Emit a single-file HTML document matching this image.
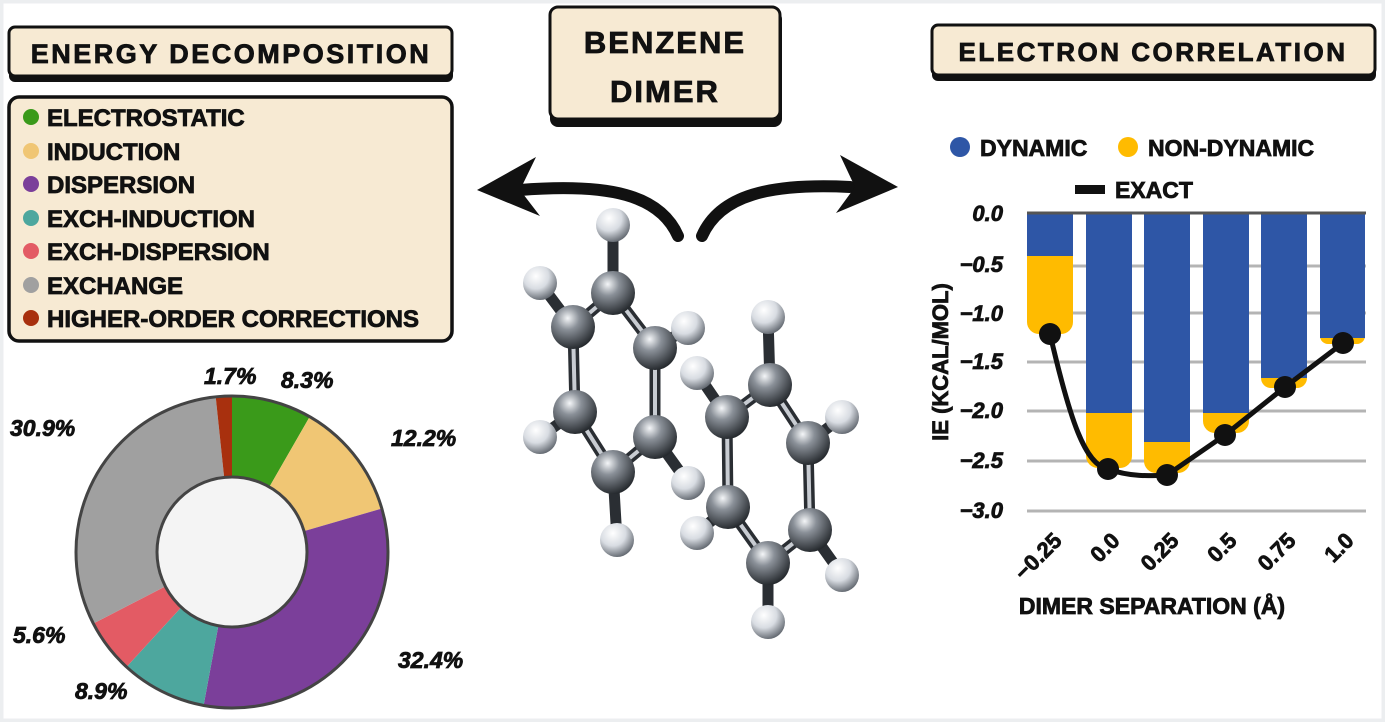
<!DOCTYPE html>
<html><head><meta charset="utf-8"><style>
html,body{margin:0;padding:0;background:#fff;}
svg{display:block;}
text{font-family:"Liberation Sans",sans-serif;font-weight:bold;fill:#111;stroke:#111;stroke-width:0.8;}
</style></head><body>
<svg width="1385" height="722" viewBox="0 0 1385 722" xmlns="http://www.w3.org/2000/svg">
<defs>
<radialGradient id="gc" cx="0.38" cy="0.3" r="0.75"><stop offset="0" stop-color="#f4f6f8"/><stop offset="0.35" stop-color="#8a9098"/><stop offset="1" stop-color="#1e2226"/></radialGradient>
<radialGradient id="gh" cx="0.38" cy="0.3" r="0.75"><stop offset="0" stop-color="#ffffff"/><stop offset="0.5" stop-color="#d8dce2"/><stop offset="1" stop-color="#5a6068"/></radialGradient>
</defs>
<rect x="0" y="0" width="1385" height="722" fill="#fff"/>
<rect x="0.5" y="0.5" width="1384" height="721" fill="none" stroke="#eceef0" stroke-width="6"/>

<rect x="9" y="31" width="444" height="51" rx="6" fill="#111"/>
<rect x="9" y="27" width="443" height="49" rx="6" fill="#f7ead3" stroke="#111" stroke-width="3"/>
<text x="231" y="63" font-size="27" text-anchor="middle" letter-spacing="2.5" stroke-width="1.2">ENERGY DECOMPOSITION</text>

<rect x="9" y="97" width="443" height="244" rx="10" fill="#f7ead3" stroke="#111" stroke-width="3.5"/>
<g font-size="24" stroke-width="1">
<circle cx="31" cy="117" r="8" fill="#3a9a1a"/><text x="47" y="126">ELECTROSTATIC</text>
<circle cx="31" cy="151" r="8" fill="#f0c674"/><text x="47" y="160">INDUCTION</text>
<circle cx="31" cy="184" r="8" fill="#7b3f9a"/><text x="47" y="193">DISPERSION</text>
<circle cx="31" cy="218" r="8" fill="#4da79e"/><text x="47" y="227">EXCH-INDUCTION</text>
<circle cx="31" cy="251" r="8" fill="#e35b64"/><text x="47" y="260">EXCH-DISPERSION</text>
<circle cx="31" cy="285" r="8" fill="#a0a0a0"/><text x="47" y="294">EXCHANGE</text>
<circle cx="31" cy="318" r="8" fill="#a8300e"/><text x="47" y="327">HIGHER-ORDER CORRECTIONS</text>
</g>

<g transform="rotate(-90 232 552)" fill="none" stroke-width="81">
<circle cx="232" cy="552" r="116" stroke="#3a9a1a" stroke-dasharray="60.5 668.35" stroke-dashoffset="0"/>
<circle cx="232" cy="552" r="116" stroke="#f0c674" stroke-dasharray="88.9 639.95" stroke-dashoffset="-60.5"/>
<circle cx="232" cy="552" r="116" stroke="#7b3f9a" stroke-dasharray="236.1 492.75" stroke-dashoffset="-149.4"/>
<circle cx="232" cy="552" r="116" stroke="#4da79e" stroke-dasharray="64.9 663.95" stroke-dashoffset="-385.5"/>
<circle cx="232" cy="552" r="116" stroke="#e35b64" stroke-dasharray="40.8 688.05" stroke-dashoffset="-450.4"/>
<circle cx="232" cy="552" r="116" stroke="#a0a0a0" stroke-dasharray="225.2 503.65" stroke-dashoffset="-491.2"/>
<circle cx="232" cy="552" r="116" stroke="#a8300e" stroke-dasharray="12.4 716.45" stroke-dashoffset="-716.4"/>
</g>
<circle cx="232" cy="552" r="156" fill="none" stroke="#444" stroke-width="3"/>
<circle cx="232" cy="552" r="75" fill="#f4f4f4" stroke="#444" stroke-width="3"/>
<g font-size="23" font-style="italic">
<text x="204" y="384">1.7%</text>
<text x="281" y="388">8.3%</text>
<text x="391" y="446">12.2%</text>
<text x="10" y="436">30.9%</text>
<text x="398" y="668">32.4%</text>
<text x="13" y="643">5.6%</text>
<text x="75" y="699">8.9%</text>
</g>

<rect x="550" y="11" width="232" height="116" rx="8" fill="#111"/>
<rect x="550" y="7" width="230" height="112" rx="8" fill="#f7ead3" stroke="#111" stroke-width="3"/>
<text x="665" y="53" font-size="31" text-anchor="middle" letter-spacing="2" stroke-width="1.4">BENZENE</text>
<text x="665" y="102" font-size="31" text-anchor="middle" letter-spacing="2" stroke-width="1.4">DIMER</text>

<path d="M678 236 C660 195 610 183 520 190" fill="none" stroke="#111" stroke-width="12" stroke-linecap="round"/>
<path d="M477 190 L536 157 L520 190 L540 216 Z" fill="#111"/>
<path d="M702 236 C720 195 770 183 850 187" fill="none" stroke="#111" stroke-width="12" stroke-linecap="round"/>
<path d="M898 187 L840 155 L855 187 L836 213 Z" fill="#111"/>

<g stroke-linecap="round">
<g stroke="#2a2e33" stroke-width="11">
<line x1="613" y1="293" x2="613" y2="225"/><line x1="573" y1="327" x2="540" y2="283"/><line x1="655" y1="348" x2="688" y2="328"/>
<line x1="575" y1="412" x2="540" y2="437"/><line x1="655" y1="437" x2="688" y2="483"/><line x1="613" y1="472" x2="617" y2="540"/>
<line x1="613" y1="293" x2="573" y2="327"/><line x1="613" y1="293" x2="655" y2="348"/><line x1="573" y1="327" x2="575" y2="412"/>
<line x1="655" y1="348" x2="655" y2="437"/><line x1="575" y1="412" x2="613" y2="472"/><line x1="655" y1="437" x2="613" y2="472"/>
</g>
<g stroke="#c8ccd2" stroke-width="4">
<line x1="613" y1="293" x2="573" y2="327"/><line x1="613" y1="293" x2="655" y2="348"/><line x1="573" y1="327" x2="575" y2="412"/>
<line x1="655" y1="348" x2="655" y2="437"/><line x1="575" y1="412" x2="613" y2="472"/><line x1="655" y1="437" x2="613" y2="472"/>
</g>
</g>
<g fill="url(#gh)">
<circle cx="613" cy="225" r="17"/><circle cx="540" cy="283" r="17"/><circle cx="688" cy="328" r="17"/>
<circle cx="540" cy="437" r="17"/><circle cx="688" cy="483" r="17"/><circle cx="617" cy="540" r="17"/>
</g>
<g fill="url(#gc)">
<circle cx="613" cy="293" r="22"/><circle cx="573" cy="327" r="22"/><circle cx="655" cy="348" r="22"/>
<circle cx="575" cy="412" r="22"/><circle cx="655" cy="437" r="22"/><circle cx="613" cy="472" r="22"/>
</g>

<g stroke-linecap="round">
<g stroke="#2a2e33" stroke-width="11">
<line x1="770" y1="385" x2="768" y2="317"/><line x1="727" y1="417" x2="697" y2="373"/><line x1="808" y1="443" x2="842" y2="417"/>
<line x1="728" y1="507" x2="697" y2="533"/><line x1="810" y1="530" x2="842" y2="575"/><line x1="768" y1="563" x2="768" y2="622"/>
<line x1="770" y1="385" x2="727" y2="417"/><line x1="770" y1="385" x2="808" y2="443"/><line x1="727" y1="417" x2="728" y2="507"/>
<line x1="808" y1="443" x2="810" y2="530"/><line x1="728" y1="507" x2="768" y2="563"/><line x1="810" y1="530" x2="768" y2="563"/>
</g>
<g stroke="#c8ccd2" stroke-width="4">
<line x1="770" y1="385" x2="727" y2="417"/><line x1="770" y1="385" x2="808" y2="443"/><line x1="727" y1="417" x2="728" y2="507"/>
<line x1="808" y1="443" x2="810" y2="530"/><line x1="728" y1="507" x2="768" y2="563"/><line x1="810" y1="530" x2="768" y2="563"/>
</g>
</g>
<g fill="url(#gh)">
<circle cx="768" cy="317" r="17"/><circle cx="697" cy="373" r="17"/><circle cx="842" cy="417" r="17"/>
<circle cx="697" cy="533" r="17"/><circle cx="842" cy="575" r="17"/><circle cx="768" cy="622" r="17"/>
</g>
<g fill="url(#gc)">
<circle cx="770" cy="385" r="22"/><circle cx="727" cy="417" r="22"/><circle cx="808" cy="443" r="22"/>
<circle cx="728" cy="507" r="22"/><circle cx="810" cy="530" r="22"/><circle cx="768" cy="563" r="22"/>
</g>

<rect x="932" y="29" width="444" height="52" rx="6" fill="#111"/>
<rect x="932" y="25" width="443" height="50" rx="6" fill="#f7ead3" stroke="#111" stroke-width="3"/>
<text x="1153" y="61" font-size="26" text-anchor="middle" letter-spacing="2.5" stroke-width="1.2">ELECTRON CORRELATION</text>

<circle cx="960" cy="147" r="10" fill="#2e56a6"/><text x="980" y="156" font-size="23" stroke-width="1">DYNAMIC</text>
<circle cx="1128" cy="147" r="10" fill="#ffbb00"/><text x="1148" y="156" font-size="23" stroke-width="1">NON-DYNAMIC</text>
<rect x="1075" y="185" width="30" height="9" fill="#111"/><text x="1115" y="198" font-size="23" stroke-width="1">EXACT</text>

<g stroke="#b4b4b4" stroke-width="3">
<line x1="1027" y1="266" x2="1366" y2="266"/><line x1="1027" y1="313" x2="1366" y2="313"/>
<line x1="1027" y1="362" x2="1366" y2="362"/><line x1="1027" y1="411" x2="1366" y2="411"/>
<line x1="1027" y1="461" x2="1366" y2="461"/><line x1="1027" y1="511" x2="1366" y2="511"/>
</g>
<g>
<path d="M1027 213 H1073 V322 a12 12 0 0 1 -12 12 H1039 a12 12 0 0 1 -12 -12 Z" fill="#ffbb00"/>
<rect x="1027" y="213" width="46" height="43" fill="#2e56a6"/>
<path d="M1086 213 H1132 V456 a12 12 0 0 1 -12 12 H1098 a12 12 0 0 1 -12 -12 Z" fill="#ffbb00"/>
<rect x="1086" y="213" width="46" height="200" fill="#2e56a6"/>
<path d="M1144 213 H1190 V461 a12 12 0 0 1 -12 12 H1156 a12 12 0 0 1 -12 -12 Z" fill="#ffbb00"/>
<rect x="1144" y="213" width="46" height="229" fill="#2e56a6"/>
<path d="M1203 213 H1249 V421 a12 12 0 0 1 -12 12 H1215 a12 12 0 0 1 -12 -12 Z" fill="#ffbb00"/>
<rect x="1203" y="213" width="46" height="200" fill="#2e56a6"/>
<path d="M1261 213 H1307 V378 a10 10 0 0 1 -10 10 H1271 a10 10 0 0 1 -10 -10 Z" fill="#ffbb00"/>
<rect x="1261" y="213" width="46" height="165" fill="#2e56a6"/>
<path d="M1320 213 H1365 V336 a8 8 0 0 1 -8 8 H1328 a8 8 0 0 1 -8 -8 Z" fill="#ffbb00"/>
<rect x="1320" y="213" width="45" height="125" fill="#2e56a6"/>
</g>
<line x1="1027" y1="213" x2="1366" y2="213" stroke="#555" stroke-width="3"/>
<path d="M1050 334 C1070 420 1085 465 1108 469 C1130 477 1150 476 1167 475 L1225 435 L1285 387 L1343 343" fill="none" stroke="#111" stroke-width="5"/>
<g fill="#111">
<circle cx="1050" cy="334" r="11"/><circle cx="1108" cy="469" r="11"/><circle cx="1167" cy="475" r="11"/>
<circle cx="1225" cy="435" r="11"/><circle cx="1285" cy="387" r="11"/><circle cx="1343" cy="343" r="11"/>
</g>
<g font-size="22" text-anchor="end" font-style="italic" stroke-width="1">
<text x="1003" y="221">0.0</text><text x="1003" y="272">−0.5</text><text x="1003" y="321">−1.0</text>
<text x="1003" y="369">−1.5</text><text x="1003" y="418">−2.0</text><text x="1003" y="468">−2.5</text><text x="1003" y="518">−3.0</text>
</g>
<text transform="translate(948 362) rotate(-90)" font-size="22" text-anchor="middle" stroke-width="1">IE (KCAL/MOL)</text>
<g font-size="22" text-anchor="end" stroke-width="1">
<text transform="translate(1063 542) rotate(-45)">−0.25</text>
<text transform="translate(1121 542) rotate(-45)">0.0</text>
<text transform="translate(1180 542) rotate(-45)">0.25</text>
<text transform="translate(1238 542) rotate(-45)">0.5</text>
<text transform="translate(1297 542) rotate(-45)">0.75</text>
<text transform="translate(1355 542) rotate(-45)">1.0</text>
</g>
<text x="1152" y="614" font-size="23" text-anchor="middle" stroke-width="1">DIMER SEPARATION (Å)</text>
</svg>
</body></html>
